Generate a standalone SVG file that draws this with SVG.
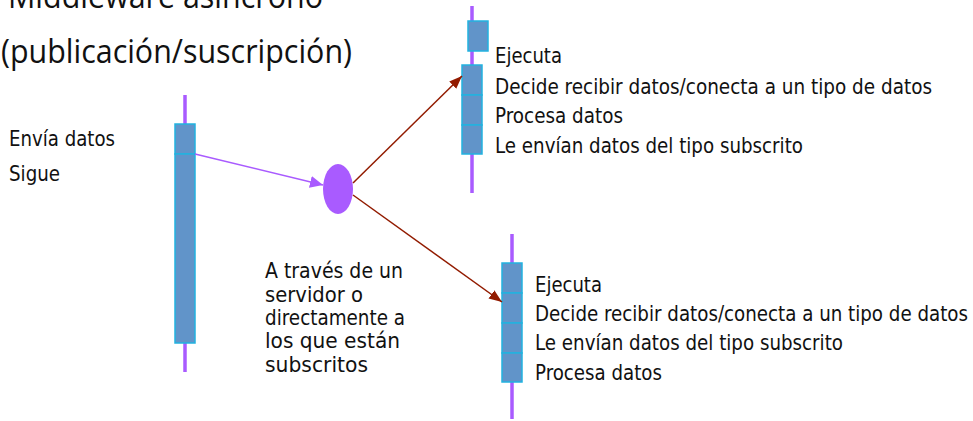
<svg xmlns="http://www.w3.org/2000/svg" width="973" height="421" viewBox="0 0 973 421">
<style>
.life{stroke:#A95BFF;stroke-width:3.5;fill:none}
.box{fill:#6194C9;stroke:#22B2E0;stroke-width:1.5}
.t{font-family:"DejaVu Sans Condensed","DejaVu Sans",sans-serif;font-size:21px;fill:#111}
.title{font-family:"Open Sans","Liberation Sans",sans-serif;font-size:33px;fill:#111}
.pa{stroke:#A95BFF;stroke-width:1.5;fill:none}
.ra{stroke:#921B00;stroke-width:1.5;fill:none}
</style>
<defs>
<marker id="ap" markerUnits="userSpaceOnUse" markerWidth="14" markerHeight="12" refX="13" refY="6" orient="auto"><path d="M0,0 L13,6 L0,12 Z" fill="#A95BFF"/></marker>
<marker id="ar" markerUnits="userSpaceOnUse" markerWidth="14" markerHeight="12" refX="13" refY="5" orient="auto"><path d="M0,0 L13,5 L0,10 Z" fill="#921B00"/></marker>
</defs>
<g id="title">
<text class="title" x="8" y="8" textLength="315" lengthAdjust="spacingAndGlyphs">Middleware asíncrono</text>
<text class="title" x="1" y="63" textLength="351" lengthAdjust="spacingAndGlyphs">(publicación/suscripción)</text>
</g>
<g id="publisher">
<line class="life" x1="185" y1="95" x2="185" y2="372"/>
<rect class="box" x="175" y="124" width="20" height="30"/>
<rect class="box" x="175" y="154" width="20" height="189"/>
<text class="t" x="9" y="146" textLength="106" lengthAdjust="spacingAndGlyphs">Envía datos</text>
<text class="t" x="9" y="181" textLength="51" lengthAdjust="spacingAndGlyphs">Sigue</text>
</g>
<g id="broker">
<ellipse cx="338" cy="189" rx="15" ry="25" fill="#A95BFF"/>
<text class="t" x="265" y="278" textLength="138" lengthAdjust="spacingAndGlyphs">A través de un</text>
<text class="t" x="265" y="301.5" textLength="98" lengthAdjust="spacingAndGlyphs">servidor o</text>
<text class="t" x="265" y="325" textLength="140" lengthAdjust="spacingAndGlyphs">directamente a</text>
<text class="t" x="265" y="348" textLength="135" lengthAdjust="spacingAndGlyphs">los que están</text>
<text class="t" x="265" y="371.5" textLength="103" lengthAdjust="spacingAndGlyphs">subscritos</text>
</g>
<g id="subscriber1">
<line class="life" x1="472" y1="6" x2="472" y2="193"/>
<rect class="box" x="468" y="21" width="20" height="30"/>
<rect class="box" x="462" y="65" width="20" height="30"/>
<rect class="box" x="462" y="95" width="20" height="30"/>
<rect class="box" x="462" y="125" width="20" height="29"/>
<text class="t" x="495" y="63" textLength="67" lengthAdjust="spacingAndGlyphs">Ejecuta</text>
<text class="t" x="495" y="94" textLength="437" lengthAdjust="spacingAndGlyphs">Decide recibir datos/conecta a un tipo de datos</text>
<text class="t" x="495" y="123" textLength="128" lengthAdjust="spacingAndGlyphs">Procesa datos</text>
<text class="t" x="495" y="153" textLength="308" lengthAdjust="spacingAndGlyphs">Le envían datos del tipo subscrito</text>
</g>
<g id="subscriber2">
<line class="life" x1="512" y1="234" x2="512" y2="419"/>
<rect class="box" x="502" y="263" width="20" height="30"/>
<rect class="box" x="502" y="293" width="20" height="30"/>
<rect class="box" x="502" y="323" width="20" height="30"/>
<rect class="box" x="502" y="353" width="20" height="29"/>
<text class="t" x="535" y="292" textLength="67" lengthAdjust="spacingAndGlyphs">Ejecuta</text>
<text class="t" x="535" y="321" textLength="433" lengthAdjust="spacingAndGlyphs">Decide recibir datos/conecta a un tipo de datos</text>
<text class="t" x="535" y="350" textLength="308" lengthAdjust="spacingAndGlyphs">Le envían datos del tipo subscrito</text>
<text class="t" x="535" y="380" textLength="127" lengthAdjust="spacingAndGlyphs">Procesa datos</text>
</g>
<g id="connectors">
<line class="pa" x1="195" y1="154" x2="323" y2="185" marker-end="url(#ap)"/>
<line class="ra" x1="353" y1="183" x2="462" y2="76" marker-end="url(#ar)"/>
<line class="ra" x1="353" y1="195" x2="502" y2="302" marker-end="url(#ar)"/>
</g>
</svg>
